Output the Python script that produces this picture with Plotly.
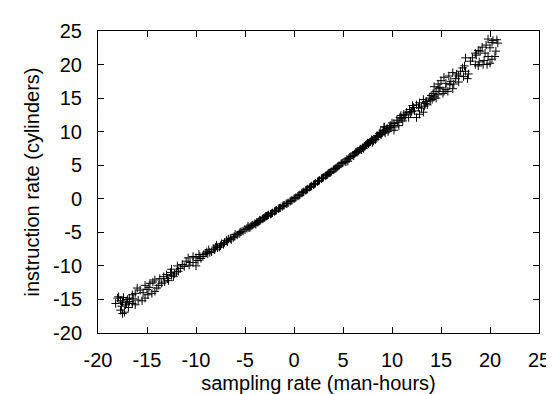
import plotly.graph_objects as go

x_vals = [
    -18.0, -17.7, -18.2, -17.5, -17.7, -17.5, -17.3, -17.2, -16.8, -16.5,
    -16.2, -16.8, -16.5, -16.2, -15.7, -15.5, -15.2, -14.9, -14.5, -14.2,
    -15.2, -14.7, -14.2, -13.7, -13.5, -13.2, -12.9, -12.5, -12.2, -17.9,
    -17.4, -17.0, -16.9, -17.6, -16.0, -15.9, -15.4, -14.8, -14.0, -13.8,
    -13.3, -12.8, -12.6, -12.0, -15.0, -16.4, -17.1, -14.4, -13.0, -12.3,
    -12.5, -11.9, -11.4, -10.8, -10.3, -10.0, -9.7, -9.0, -8.7, -8.0,
    -7.4, -6.7, -6.0, -10.3, -10.0, -11.6, -11.2, -10.6, -9.5, -9.2,
    -8.8, -8.4, -8.2, -7.8, -7.5, -7.1, -6.8, -6.5, -6.2, -5.8,
    -5.5, -5.2, -11.0, -9.8, -9.3, -8.6, -7.9, -7.2, -6.4, -5.6,
    -11.8, -10.7, -9.6, -8.9, -8.1, -7.6, -6.9, -6.1, -5.4, -5.0,
    -4.8, -4.6, -4.4, -4.2, -4.0, -3.8, -3.6, -3.4, -3.2, -3.0,
    -2.8, -2.6, -2.4, -2.2, -2.0, -1.8, -1.6, -1.4, -1.2, -1.0,
    -0.8, -0.6, -0.4, -0.2, 0.0, 0.2, 0.4, 0.6, 0.8, 1.0,
    1.2, 1.4, 1.6, 1.8, 2.0, 2.2, 2.4, 2.6, 2.8, 3.0,
    3.2, 3.4, 3.6, 3.8, 4.0, 4.2, 4.4, 4.6, 4.8, 5.0,
    -4.7, -4.3, -3.9, -3.5, -3.1, -2.7, -2.3, -1.9, -1.5, -1.1,
    -0.7, -0.3, 0.1, 0.5, 0.9, 1.3, 1.7, 2.1, 2.5, 2.9,
    3.3, 3.7, 4.1, 4.5, 4.9, -4.5, -3.7, -2.9, 3.5, 4.3,
    5.2, 5.4, 5.6, 5.8, 6.0, 6.2, 6.4, 6.6, 6.8, 7.0,
    7.2, 7.4, 7.6, 7.8, 8.0, 8.2, 8.4, 8.6, 8.8, 9.0,
    5.3, 5.7, 6.1, 6.5, 6.9, 7.3, 7.7, 8.1, 8.5, 8.9,
    5.5, 6.3, 7.1, 7.9, 8.3, 8.7, 9.2, 9.4, 9.6, 9.8,
    9.3, 9.7, 8.0, 7.5, 6.7, 9.2, 9.9, 9.5, 8.8, 9.1,
    19.8, 20.7, 20.2, 20.8, 18.8, 19.2, 19.5, 18.5, 19.8, 20.5,
    19.7, 20.0, 19.3, 17.5, 18.0, 18.5, 18.8, 17.2, 17.5, 17.8,
    17.7, 16.2, 15.8, 15.3, 15.0, 16.8, 16.5, 16.3, 14.7, 14.3,
    14.8, 14.5, 14.2, 16.2, 15.7, 15.2, 15.3, 13.8, 13.5, 13.2,
    12.8, 14.5, 14.3, 14.7, 12.5, 12.2, 12.3, 11.8, 11.5, 11.2,
    11.7, 11.3, 10.8, 10.5, 10.2, 9.8, 10.7, 10.3, 9.2, 10.2,
    12.5, 12.8, 13.2, 13.0, 13.6, 12.0, 11.0, 10.6, 10.0, 11.4,
    12.7, 13.4, 14.0, 14.9, 15.5, 16.0, 16.6, 17.0, 17.4, 18.2,
    18.6, 19.0, 19.6, 20.3, 20.0, 18.9, 19.4, 20.2, 17.3, 16.8,
    15.9, 15.5, 14.1, 13.9, 11.9, 11.1, 10.9, 12.1, 13.3, 20.6,
]
y_vals = [
    -14.8, -15.2, -15.6, -15.4, -16.6, -17.1, -16.9, -15.8, -15.3, -15.6,
    -15.8, -14.8, -14.3, -14.1, -13.6, -15.2, -14.8, -14.3, -14.1, -13.8,
    -12.9, -12.6, -12.1, -11.9, -12.6, -12.4, -11.9, -11.4, -11.2, -14.6,
    -14.7, -15.0, -16.2, -16.0, -13.3, -15.1, -14.0, -13.2, -13.3, -12.9,
    -11.6, -12.2, -11.0, -10.9, -13.5, -14.9, -15.5, -12.4, -11.3, -11.6,
    -10.5, -10.0, -9.8, -8.8, -8.6, -8.8, -8.3, -8.1, -7.6, -7.2,
    -6.7, -6.0, -5.3, -9.5, -10.0, -10.4, -10.1, -9.5, -8.9, -8.3,
    -8.2, -7.9, -7.5, -7.3, -7.0, -6.5, -6.4, -5.9, -5.8, -5.4,
    -5.0, -4.8, -9.3, -9.2, -8.6, -8.0, -6.9, -6.8, -6.1, -5.2,
    -10.8, -9.9, -8.6, -7.9, -7.6, -7.2, -6.2, -5.6, -4.9, -4.6,
    -4.4, -4.3, -4.1, -3.9, -3.7, -3.5, -3.4, -3.2, -3.0, -2.8,
    -2.6, -2.4, -2.3, -2.1, -1.9, -1.7, -1.5, -1.35, -1.15, -0.95,
    -0.75, -0.6, -0.4, -0.2, 0.0, 0.2, 0.4, 0.6, 0.85, 1.05,
    1.25, 1.45, 1.7, 1.9, 2.1, 2.3, 2.55, 2.75, 3.0, 3.2,
    3.4, 3.6, 3.85, 4.05, 4.3, 4.5, 4.7, 4.95, 5.2, 5.4,
    -4.1, -4.0, -3.8, -3.2, -2.9, -2.5, -2.2, -1.8, -1.4, -1.0,
    -0.7, -0.3, 0.1, 0.5, 0.95, 1.35, 1.8, 2.2, 2.65, 3.1,
    3.5, 3.9, 4.4, 4.85, 5.3, -4.3, -3.5, -2.6, 3.8, 4.55,
    5.6, 5.9, 6.0, 6.3, 6.5, 6.7, 7.0, 7.1, 7.4, 7.6,
    7.8, 8.1, 8.2, 8.5, 8.7, 8.9, 9.2, 9.3, 9.6, 9.8,
    5.5, 6.2, 6.4, 7.1, 7.3, 8.0, 8.4, 8.6, 9.4, 9.5,
    5.6, 6.9, 7.5, 8.8, 8.8, 9.7, 10.1, 10.3, 10.0, 10.6,
    9.8, 10.4, 8.4, 8.3, 7.3, 10.7, 10.9, 10.5, 9.9, 10.2,
    23.8, 23.7, 23.3, 23.2, 22.1, 22.6, 21.7, 21.7, 21.2, 21.2,
    20.0, 20.2, 20.0, 21.0, 20.5, 20.0, 19.8, 19.5, 19.0, 18.6,
    17.9, 18.8, 18.3, 18.1, 17.6, 18.3, 17.9, 17.1, 17.1, 16.7,
    16.4, 16.0, 15.7, 16.4, 16.0, 15.7, 16.0, 15.0, 14.5, 14.8,
    14.3, 15.0, 15.2, 15.5, 14.0, 13.6, 13.1, 13.3, 12.9, 12.6,
    12.1, 12.1, 12.1, 11.7, 11.2, 10.9, 10.9, 10.7, 10.7, 10.2,
    12.1, 12.6, 12.9, 13.5, 14.0, 13.0, 11.9, 11.4, 11.3, 12.5,
    13.6, 14.2, 15.4, 16.6, 17.2, 17.5, 18.6, 19.0, 19.8, 21.0,
    21.4, 22.0, 22.9, 23.6, 22.5, 20.4, 20.6, 20.8, 18.2, 17.4,
    17.0, 16.3, 14.8, 14.6, 12.8, 11.6, 12.4, 13.9, 13.8, 22.0,
]

x_ticks = [-20, -15, -10, -5, 0, 5, 10, 15, 20, 25]
y_ticks = [-20, -15, -10, -5, 0, 5, 10, 15, 20, 25]
x_title = "sampling rate (man-hours)"
y_title = "instruction rate (cylinders)"

fig = go.Figure()
fig.add_trace(go.Scatter(
    x=x_vals, y=y_vals, mode="markers",
    marker=dict(symbol="cross-thin", size=6, color="black",
                line=dict(color="black", width=1)),
    showlegend=False,
))

font = dict(family="Liberation Sans, Arial, sans-serif", size=20, color="black")
axis_common = dict(
    showline=True, linecolor="black", linewidth=1, mirror="allticks",
    ticks="inside", ticklen=6, tickwidth=1, tickcolor="black",
    showgrid=False, zeroline=False, tickfont=font,
)
fig.update_xaxes(range=[-20, 25], tickvals=x_ticks,
                 ticktext=[str(t) for t in x_ticks],
                 title=dict(text=x_title, font=font, standoff=5),
                 ticklabelstandoff=9, **axis_common)
fig.update_yaxes(range=[-20, 25], tickvals=y_ticks,
                 ticktext=[str(t) for t in y_ticks],
                 title=dict(text=y_title, font=font, standoff=8),
                 ticklabelstandoff=11, **axis_common)
fig.update_layout(
    width=554, height=394,
    margin=dict(l=90, r=17, t=18, b=62),
    plot_bgcolor="white", paper_bgcolor="white",
    font=font,
)
fig.write_html("out.html")
